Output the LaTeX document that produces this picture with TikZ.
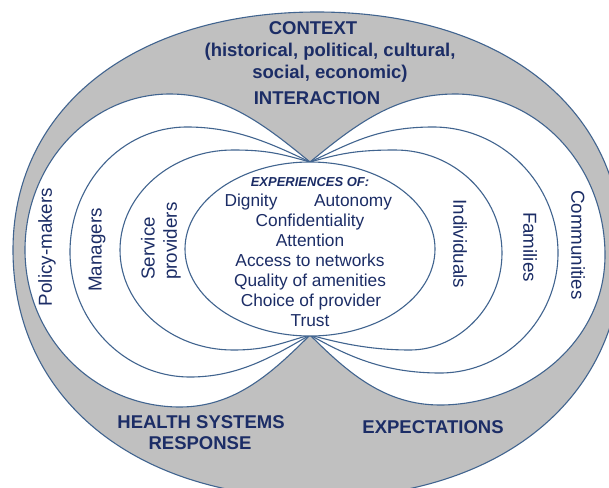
\documentclass[tikz,border=0pt]{standalone}
\usepackage{fontspec}
\setmainfont{Liberation Sans}
\definecolor{lineblue}{HTML}{41648F}
\definecolor{textblue}{HTML}{1C2D66}
\definecolor{fillgray}{HTML}{C0C0C0}
\tikzset{
  shape line/.style={draw=lineblue, line width=1.1pt},
  head/.style={text=textblue, font=\fontsize{18.5}{21}\selectfont\bfseries, inner sep=0pt, anchor=base},
  item/.style={text=textblue, font=\fontsize{17.3}{20}\selectfont, inner sep=0pt, anchor=base},
  side/.style={text=textblue, font=\fontsize{18.8}{22}\selectfont, inner sep=0pt},
}
\begin{document}
\begin{tikzpicture}[x=1pt,y=-1pt]
\useasboundingbox (0,0) rectangle (609,487);
\clip (0,0) rectangle (609,487);
\fill[white] (0,0) rectangle (609,487);
% outer context shape
\path[shape line, fill=fillgray] (13,250) .. controls (13,107) and (135,12) .. (317,12)
  .. controls (500,12) and (622,107) .. (622,250)
  .. controls (622,399) and (500,498) .. (317,498)
  .. controls (135,498) and (13,399) .. (13,250) -- cycle;
% left lenses
\path[shape line, fill=white] (310,162) .. controls (265,125) and (225,94) .. (170,94)
  .. controls (90,94) and (25,164) .. (25,250)
  .. controls (25,337) and (94,407) .. (180,407)
  .. controls (235,407) and (272,373) .. (310,335);
\path[shape line] (310,162) .. controls (270,143) and (235,127) .. (187,127)
  .. controls (122,127) and (70,183) .. (70,252)
  .. controls (70,321) and (124,377) .. (190,377)
  .. controls (238,377) and (272,357) .. (310,335);
\path[shape line] (310,162) .. controls (281,154) and (268,150) .. (233,150)
  .. controls (171,150) and (120,195) .. (120,250)
  .. controls (120,305) and (171,350) .. (233,350)
  .. controls (268,350) and (281,343) .. (310,335);
% right lenses
\path[shape line, fill=white] (310,162) .. controls (355,125) and (395,94) .. (455,94)
  .. controls (538,94) and (605,166) .. (605,255)
  .. controls (605,343) and (525,405) .. (440,405)
  .. controls (385,405) and (348,373) .. (310,335);
\path[shape line] (310,162) .. controls (351,143) and (378,127) .. (433,127)
  .. controls (502,127) and (558,184) .. (558,253)
  .. controls (558,319) and (505,373) .. (440,373)
  .. controls (385,373) and (349,357) .. (310,335);
\path[shape line] (310,162) .. controls (339,154) and (355,150) .. (395,150)
  .. controls (454,150) and (502,196) .. (502,253)
  .. controls (502,307) and (458,350) .. (410,350)
  .. controls (370,350) and (339,343) .. (310,335);
% inner ellipse
\path[shape line, fill=white] (310,249) ellipse [x radius=125pt, y radius=87pt];
% headings
\node[head] (context) at (313,34.5) {CONTEXT};
\node[head] (context2) at (330,56.5) {(historical, political, cultural,};
\node[head] (context3) at (330,78.5) {social, economic)};
\node[head] (interaction) at (317,104.5) {INTERACTION};
\node[head] (hsr1) at (201,428.5) {HEALTH SYSTEMS};
\node[head] (hsr2) at (200,449.5) {RESPONSE};
\node[head] (expect) at (433,433.5) {EXPECTATIONS};
% inner items
\node[item, font=\fontsize{13}{15}\selectfont\bfseries\itshape] (exp) at (310,186.5) {EXPERIENCES OF:};
\node[item] (dignity) at (251,206) {Dignity};
\node[item] (autonomy) at (353,206) {Autonomy};
\node[item] (conf) at (310,226) {Confidentiality};
\node[item] (attn) at (310,246) {Attention};
\node[item] (access) at (310,266) {Access to networks};
\node[item] (quality) at (310,286) {Quality of amenities};
\node[item] (choice) at (311,306) {Choice of provider};
\node[item] (trust) at (310,326) {Trust};
% side labels
\node[side, rotate=90] (policy) at (47,247) {Policy-makers};
\node[side, rotate=90] (managers) at (97,250) {Managers};
\node[side, rotate=90, anchor=west] (service) at (148,280) {Service};
\node[side, rotate=90, anchor=west] (providers) at (172,280) {providers};
\node[side, rotate=-90] (individuals) at (460,244) {Individuals};
\node[side, rotate=-90] (families) at (530,247) {Families};
\node[side, rotate=-90] (communities) at (578,245) {Communities};
\end{tikzpicture}
\end{document}
